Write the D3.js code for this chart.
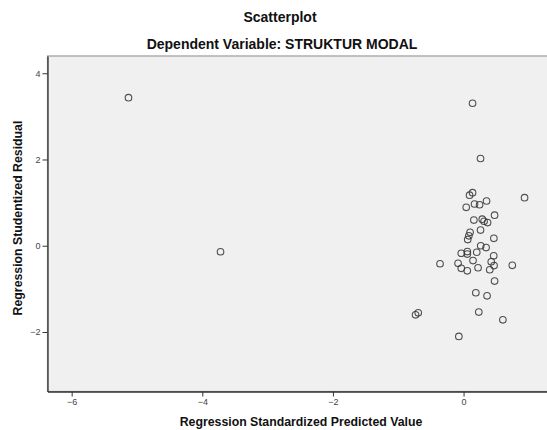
<!DOCTYPE html>
<html>
<head>
<meta charset="utf-8">
<script src="https://cdn.jsdelivr.net/npm/d3@7"></script>
<style>
  body { margin: 0; background: #fff; overflow: hidden; }
  text { font-family: "Liberation Sans", Arial, sans-serif; }
</style>
</head>
<body>
<div id="chart"></div>
<script>
// values
const predicted = [-5.130, -3.721, 0.138, 0.260, 0.934, 0.138, 0.092, 0.352, 0.168, 0.245,
  0.041, 0.475, 0.158, 0.286, 0.314, 0.368, 0.260, 0.100, 0.081, 0.064,
  0.464, 0.263, 0.345, -0.035, 0.058, 0.058, 0.202, 0.462, 0.145, 0.424,
  -0.360, -0.084, 0.467, 0.746, -0.035, 0.222, 0.401, 0.057, 0.475, 0.188,
  0.360, -0.694, -0.735, 0.233, 0.602, -0.072];
const residual = [3.434, -0.139, 3.304, 2.023, 1.114, 1.230, 1.172, 1.037, 0.968, 0.951,
  0.891, 0.708, 0.596, 0.615, 0.568, 0.538, 0.364, 0.311, 0.230, 0.144,
  0.172, 0.000, -0.042, -0.174, -0.135, -0.193, -0.151, -0.234, -0.343, -0.371,
  -0.418, -0.408, -0.459, -0.455, -0.524, -0.510, -0.557, -0.582, -0.819, -1.090,
  -1.162, -1.555, -1.603, -1.538, -1.719, -2.102];
const xTicks = [-6, -4, -2, 0];
const yTicks = [-2, 0, 2, 4];

const width = 547;
const height = 430;

const svg = d3.select('#chart')
  .append('svg')
  .attr('width', width)
  .attr('height', height);

// plot runs off the right edge, like the cropped original
const x = d3.scaleLinear().domain([-6.37, 2.40]).range([47.5, 620.3]);
const y = d3.scaleLinear().domain([-3.38, 4.40]).range([391.5, 56]);

// plot area
svg.append('rect')
  .attr('x', x.range()[0])
  .attr('y', y.range()[1])
  .attr('width', x.range()[1] - x.range()[0])
  .attr('height', y.range()[0] - y.range()[1])
  .attr('fill', '#f0f0f0')
  .attr('stroke', '#9a9a9a')
  .attr('stroke-width', 1.2);

const axisY = d3.axisLeft(y).tickValues(yTicks).tickSize(5).tickSizeOuter(0).tickPadding(2);
const gy = svg.append('g')
  .attr('transform', `translate(${x.range()[0]},0)`)
  .call(axisY);

const axisX = d3.axisBottom(x).tickValues(xTicks).tickSize(5).tickSizeOuter(0).tickPadding(2);
const gx = svg.append('g')
  .attr('transform', `translate(0,${y.range()[0]})`)
  .call(axisX);

[gx, gy].forEach(g => {
  g.select('.domain').attr('stroke', '#333').attr('stroke-width', 1.3);
  g.selectAll('.tick line').attr('stroke', '#333');
  g.selectAll('.tick text')
    .attr('fill', '#444')
    .style('font-size', '9px')
    .style('font-family', '"Liberation Sans", Arial, sans-serif');
});

// points
svg.append('g')
  .selectAll('circle')
  .data(predicted)
  .enter()
  .append('circle')
  .attr('cx', d => x(d))
  .attr('cy', (d, i) => y(residual[i]))
  .attr('r', 3.3)
  .attr('fill', 'none')
  .attr('stroke', '#333')
  .attr('stroke-width', 1.1)
  .attr('stroke-opacity', 0.85);

// titles
svg.append('text')
  .attr('x', 280).attr('y', 22)
  .attr('text-anchor', 'middle')
  .style('font-size', '14px').style('font-weight', 'bold')
  .attr('fill', '#111')
  .text('Scatterplot');

svg.append('text')
  .attr('x', 282).attr('y', 49)
  .attr('text-anchor', 'middle')
  .style('font-size', '14px').style('font-weight', 'bold')
  .attr('fill', '#111')
  .text('Dependent Variable: STRUKTUR MODAL');

svg.append('text')
  .attr('x', 301).attr('y', 426)
  .attr('text-anchor', 'middle')
  .style('font-size', '12.3px').style('font-weight', 'bold')
  .attr('fill', '#111')
  .text('Regression Standardized Predicted Value');

svg.append('text')
  .attr('transform', 'rotate(-90)')
  .attr('x', -218).attr('y', 22)
  .attr('text-anchor', 'middle')
  .style('font-size', '12.3px').style('font-weight', 'bold')
  .attr('fill', '#111')
  .text('Regression Studentized Residual');
</script>
</body>
</html>
